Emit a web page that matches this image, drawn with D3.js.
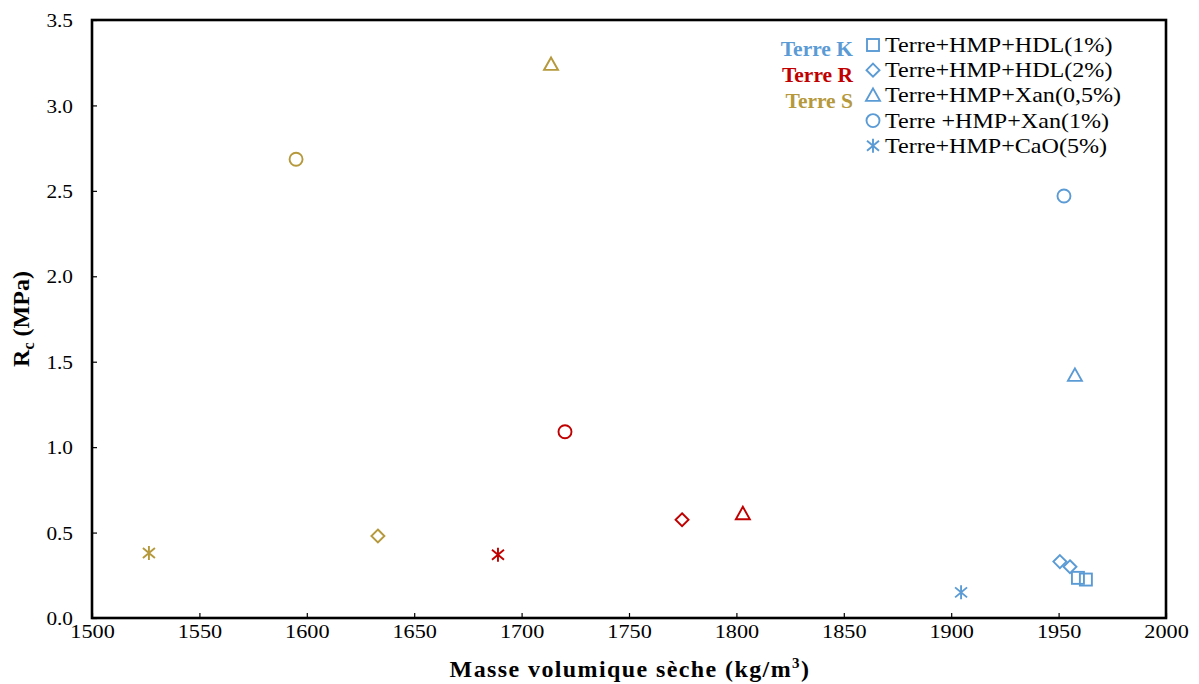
<!DOCTYPE html>
<html><head><meta charset="utf-8">
<script src="https://cdn.jsdelivr.net/npm/d3@7/dist/d3.min.js"></script>
<style>body{margin:0;background:#fff}</style>
</head><body>
<svg id="c" width="1199" height="684"></svg>
<script>
const soils = ["Terre K", "Terre R", "Terre S"];
const soilColors = ["#5b9bd5", "#c00000", "#b5993c"];
const mixes = ["Terre+HMP+HDL(1%)", "Terre+HMP+HDL(2%)", "Terre+HMP+Xan(0,5%)", "Terre +HMP+Xan(1%)", "Terre+HMP+CaO(5%)"];
const mixShapes = ["square", "diamond", "triangle", "circle", "asterisk"];
// Terre K
const kDensity = [1959, 1962.7, 1950.6, 1955.3, 1957.6, 1952.5, 1904.6];
const kRc = [0.235, 0.225, 0.33, 0.30, 1.42, 2.47, 0.15];
const kMix = [0, 0, 1, 1, 2, 3, 4];
// Terre R
const rDensity = [1774.7, 1803, 1720.2, 1689];
const rRc = [0.575, 0.61, 1.09, 0.37];
const rMix = [1, 2, 3, 4];
// Terre S
const sDensity = [1633.1, 1713.7, 1595, 1526.5];
const sRc = [0.48, 3.24, 2.685, 0.38];
const sMix = [1, 2, 3, 4];
const xTicks = [1500,1550,1600,1650,1700,1750,1800,1850,1900,1950,2000];
const yTicks = [0,0.5,1,1.5,2,2.5,3,3.5];

const svg = d3.select("#c");
const L = 92, R = 1166, T = 20, B = 618;
const x = d3.scaleLinear().domain([1500, 2000]).range([L, R]);
const y = d3.scaleLinear().domain([0, 3.5]).range([B, T]);
const font = "'Liberation Serif', 'DejaVu Serif', serif";

function stretch(sel, f) {
  sel.each(function() {
    const w = this.getComputedTextLength();
    d3.select(this).attr("textLength", w * f).attr("lengthAdjust", "spacingAndGlyphs");
  });
}

const xa = svg.append("g").attr("transform", `translate(0,${B})`)
  .call(d3.axisBottom(x).tickValues(xTicks).tickFormat(d3.format("d")).tickSize(-5).tickSizeOuter(0));
const ya = svg.append("g").attr("transform", `translate(${L},0)`)
  .call(d3.axisLeft(y).tickValues(yTicks).tickFormat(d3.format(".1f")).tickSize(-5).tickSizeOuter(0));
[xa, ya].forEach(a => {
  a.selectAll("path").remove();
  a.selectAll("line").attr("stroke", "#000").attr("stroke-width", 1.2);
  a.selectAll("text").attr("font-family", font).attr("font-size", 19).attr("fill", "#000");
});
xa.selectAll("text").attr("y", 6).attr("dy", "0.72em");
ya.selectAll("text").attr("x", -19).attr("dy", "0.35em");
stretch(xa.selectAll("text"), 1.17);
stretch(ya.selectAll("text"), 1.12);

svg.append("rect").attr("x", L).attr("y", T).attr("width", R - L).attr("height", B - T)
  .attr("fill", "none").attr("stroke", "#000").attr("stroke-width", 2.6);

function drawShape(g, shape, cx, cy, color) {
  const sw = 1.9;
  if (shape === "square") {
    g.append("rect").attr("x", cx - 6).attr("y", cy - 6).attr("width", 12).attr("height", 12)
      .attr("fill", "none").attr("stroke", color).attr("stroke-width", sw);
  } else if (shape === "diamond") {
    g.append("path").attr("d", `M${cx},${cy-6.5}L${cx+6.5},${cy}L${cx},${cy+6.5}L${cx-6.5},${cy}Z`)
      .attr("fill", "none").attr("stroke", color).attr("stroke-width", sw);
  } else if (shape === "triangle") {
    g.append("path").attr("d", `M${cx},${cy-7}L${cx+7},${cy+5.5}L${cx-7},${cy+5.5}Z`)
      .attr("fill", "none").attr("stroke", color).attr("stroke-width", sw);
  } else if (shape === "circle") {
    g.append("circle").attr("cx", cx).attr("cy", cy).attr("r", 6.5)
      .attr("fill", "none").attr("stroke", color).attr("stroke-width", sw);
  } else {
    g.append("path").attr("d", `M${cx},${cy-7}L${cx},${cy+7}M${cx-6},${cy-5}L${cx+6},${cy+5}M${cx-6},${cy+5}L${cx+6},${cy-5}`)
      .attr("fill", "none").attr("stroke", color).attr("stroke-width", sw);
  }
}

const pts = svg.append("g");
const sets = [[kDensity, kRc, kMix], [rDensity, rRc, rMix], [sDensity, sRc, sMix]];
sets.forEach((s, si) => {
  s[0].forEach((d, i) => drawShape(pts, mixShapes[s[2][i]], x(d), y(s[1][i]), soilColors[si]));
});

// legends
const lg = svg.append("g");
soils.forEach((s, i) => {
  lg.append("text").attr("x", 853).attr("y", 56 + i * 26).attr("text-anchor", "end")
    .attr("font-family", font).attr("font-weight", "bold").attr("font-size", 21.5)
    .attr("fill", soilColors[i]).text(s);
});
const mixTexts = [];
mixes.forEach((m, i) => {
  const cy = 45 + i * 25.2;
  drawShape(lg, mixShapes[i], 873, cy, soilColors[0]);
  mixTexts.push(lg.append("text").attr("x", 885).attr("y", cy + 7)
    .attr("font-family", font).attr("font-size", 21.5).attr("fill", "#000").text(m).node());
});
stretch(d3.selectAll(mixTexts), 1.12);

// axis titles
const xt = svg.append("text").attr("x", 630).attr("y", 677).attr("text-anchor", "middle")
  .attr("font-family", font).attr("font-weight", "bold").attr("font-size", 24)
  .attr("letter-spacing", 1.4).attr("fill", "#000");
xt.append("tspan").text("Masse volumique sèche (kg/m");
xt.append("tspan").attr("dy", -9).attr("font-size", 15).text("3");
xt.append("tspan").attr("dy", 9).text(")");

const yt = svg.append("text").attr("transform", `translate(29,${(T + B) / 2}) rotate(-90)`).attr("text-anchor", "middle")
  .attr("font-family", font).attr("font-weight", "bold").attr("font-size", 24).attr("fill", "#000");
yt.append("tspan").text("R");
yt.append("tspan").attr("dy", 5).attr("font-size", 16).text("c");
yt.append("tspan").attr("dy", -5).text(" (MPa)");
</script>
</body></html>
